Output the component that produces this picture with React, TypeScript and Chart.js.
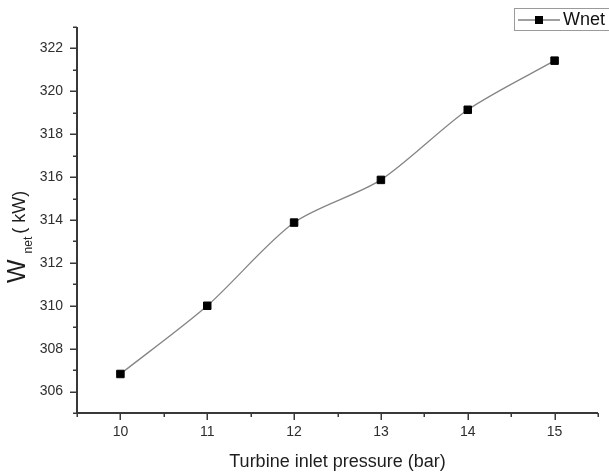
import React, { useEffect, useRef } from 'react';
import { Chart, registerables } from 'chart.js';

Chart.register(...registerables);

// ---- data ----
const pressures = [10, 11, 12, 13, 14, 15];
const wnet = [306.82, 310.0, 313.88, 315.87, 319.14, 321.43];
const xTickLabels = ['10', '11', '12', '13', '14', '15'];
const yTickLabels = ['306', '308', '310', '312', '314', '316', '318', '320', '322'];
const seriesName = 'Wnet';
const xTitle = 'Turbine inlet pressure (bar)';
const yTitleMain = 'W';
const yTitleSub = 'net';
const yTitleUnit = '( kW)';

const FONT = 'Arial, "Liberation Sans", Helvetica, sans-serif';

const originPlugin = {
  id: 'originStyle',
  afterDraw(chart: any) {
    const ctx = chart.ctx as CanvasRenderingContext2D;
    const { left, right, top, bottom } = chart.chartArea;
    const xs = chart.scales.x;
    const ys = chart.scales.y;
    ctx.save();
    // axes lines
    ctx.strokeStyle = '#383838';
    ctx.lineWidth = 2;
    ctx.beginPath();
    ctx.moveTo(left, top);
    ctx.lineTo(left, bottom);
    ctx.lineTo(right, bottom);
    ctx.stroke();
    // ticks
    ctx.lineWidth = 1.5;
    ctx.beginPath();
    xs.ticks.forEach((t: any) => {
      const px = Math.round(xs.getPixelForValue(t.value)) + 0.25;
      const major = xTickLabels.includes(String(t.value));
      ctx.moveTo(px, bottom);
      ctx.lineTo(px, bottom + (major ? 7 : 4));
    });
    ys.ticks.forEach((t: any) => {
      const py = Math.round(ys.getPixelForValue(t.value)) + 0.25;
      const major = yTickLabels.includes(String(t.value));
      ctx.moveTo(left, py);
      ctx.lineTo(left - (major ? 7 : 4), py);
    });
    ctx.stroke();

    // x title
    ctx.fillStyle = '#1e1e1e';
    ctx.font = `18px ${FONT}`;
    ctx.textAlign = 'center';
    ctx.textBaseline = 'alphabetic';
    ctx.fillText(xTitle, (left + right) / 2, 467);

    // y title (rotated, with subscript)
    ctx.save();
    ctx.translate(25, 283);
    ctx.rotate(-Math.PI / 2);
    ctx.textAlign = 'left';
    ctx.font = `25px ${FONT}`;
    ctx.fillText(yTitleMain, 0, 0);
    const w1 = ctx.measureText(yTitleMain).width;
    ctx.font = `12px ${FONT}`;
    ctx.fillText(yTitleSub, w1 + 6, 7);
    const w2 = ctx.measureText(yTitleSub).width;
    ctx.font = `18px ${FONT}`;
    ctx.fillText(yTitleUnit, w1 + 6 + w2 + 3, 0);
    ctx.restore();

    // legend
    const lx = 514.5, ly = 8.5;
    ctx.strokeStyle = '#9a9a9a';
    ctx.lineWidth = 1;
    ctx.strokeRect(lx, ly, 120, 22);
    ctx.strokeStyle = '#808080';
    ctx.lineWidth = 1.3;
    ctx.beginPath();
    ctx.moveTo(518, 20);
    ctx.lineTo(560, 20);
    ctx.stroke();
    ctx.fillStyle = '#000';
    ctx.fillRect(535, 16, 8, 8);
    ctx.fillStyle = '#111';
    ctx.font = `18px ${FONT}`;
    ctx.textAlign = 'left';
    ctx.textBaseline = 'middle';
    ctx.fillText(seriesName, 563, 20);
    ctx.restore();
  },
};

export default function App() {
  const ref = useRef<HTMLCanvasElement | null>(null);
  useEffect(() => {
    if (!ref.current) return;
    const chart = new Chart(ref.current, {
      type: 'line',
      data: {
        datasets: [
          {
            label: seriesName,
            data: pressures.map((p, i) => ({ x: p, y: wnet[i] })),
            borderColor: '#858585',
            borderWidth: 1.3,
            tension: 0.28,
            pointStyle: 'rect',
            pointRadius: 5.3,
            pointBorderWidth: 1,
            pointBackgroundColor: '#000',
            pointBorderColor: '#000',
            fill: false,
          },
        ],
      },
      options: {
        responsive: false,
        animation: false,
        layout: { padding: { left: 0, top: 27, right: 8, bottom: 0 } },
        plugins: {
          legend: { display: false },
          tooltip: { enabled: false },
          title: { display: false },
        },
        scales: {
          x: {
            type: 'linear',
            min: 9.5,
            max: 15.5,
            grid: { display: false, drawTicks: false },
            border: { display: false },
            afterFit: (s: any) => {
              s.height = 62;
            },
            ticks: {
              stepSize: 0.5,
              autoSkip: false,
              maxRotation: 0,
              padding: 11,
              color: '#2e2e2e',
              font: { size: 14, family: FONT },
              callback: (v: any) => (xTickLabels.includes(String(v)) ? String(v) : ''),
            },
          },
          y: {
            type: 'linear',
            min: 305,
            max: 323,
            grid: { display: false, drawTicks: false },
            border: { display: false },
            afterFit: (s: any) => {
              s.width = 77;
            },
            ticks: {
              stepSize: 1,
              autoSkip: false,
              padding: 14,
              color: '#2e2e2e',
              font: { size: 14, family: FONT },
              callback: (v: any) => (yTickLabels.includes(String(v)) ? String(v) : ''),
            },
          },
        },
      },
      plugins: [originPlugin],
    });
    return () => chart.destroy();
  }, []);
  return (
    <div style={{ position: 'fixed', left: 0, top: 0, width: 609, height: 475, background: '#fff' }}>
      <canvas ref={ref} width={609} height={475} style={{ display: 'block' }} />
    </div>
  );
}
